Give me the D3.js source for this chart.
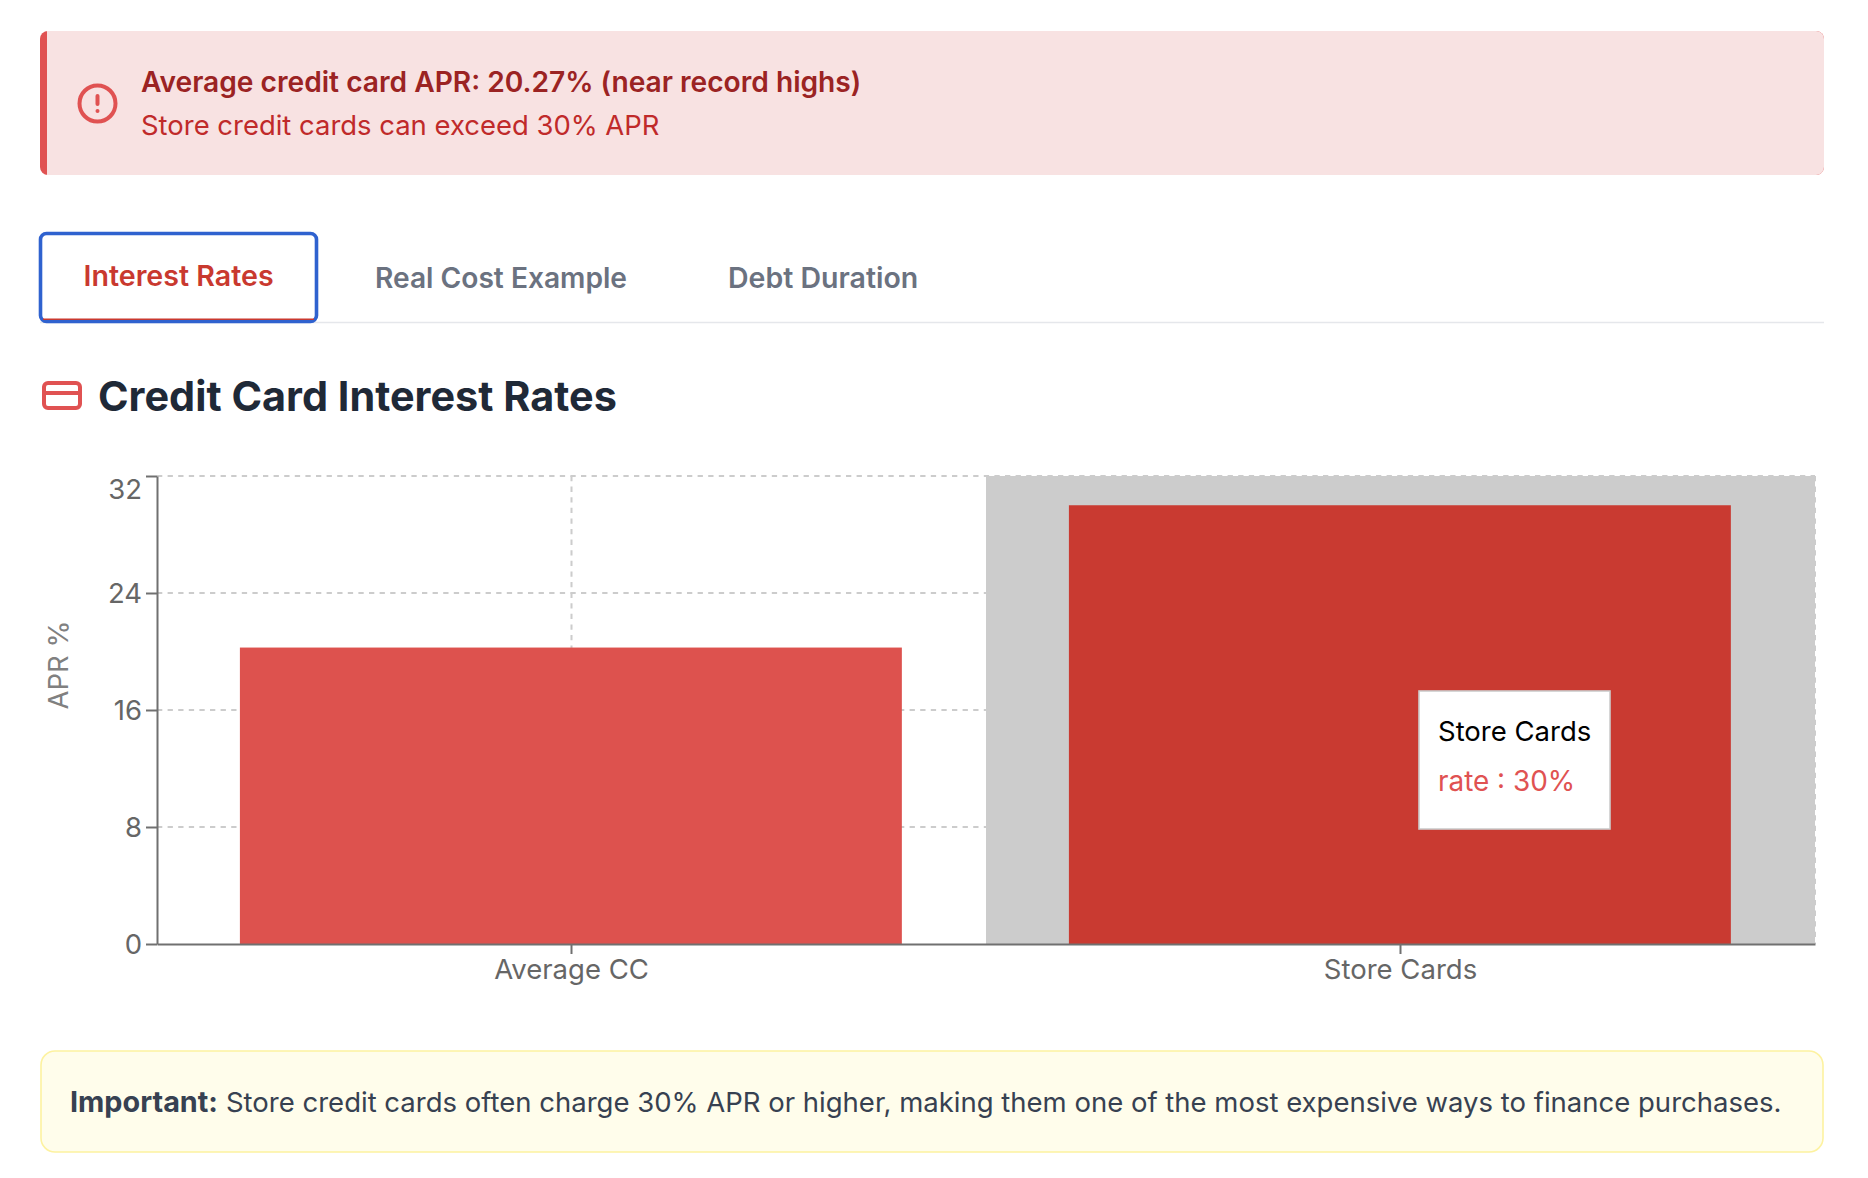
<!DOCTYPE html>
<html>
<head>
<meta charset="utf-8">
<script src="https://cdn.jsdelivr.net/npm/d3@7/dist/d3.min.js"></script>
<style>
html,body{margin:0;padding:0;background:#fff;}
svg{display:block;font-family:Inter,sans-serif;}
</style>
</head>
<body>
<svg id="page" width="1868" height="1178"></svg>
<script>
// Chart data
const categories = ["Average CC", "Store Cards"];
const rates = [20.27, 30];
const barColors = ["#dd524e", "#c93a31"];
const yTicks = [0, 8, 16, 24, 32];
const activeCategory = "Store Cards";
const tabs = ["Interest Rates", "Real Cost Example", "Debt Duration"];

const svg = d3.select("#page");
const W = { left: 157, right: 1815, top: 476, bottom: 944 };

// Alert banner
svg.append("rect").attr("x", 40).attr("y", 31).attr("width", 1784).attr("height", 144).attr("rx", 8).attr("fill", "#e05252");
svg.append("path").attr("d", "M47 31H1816a8 8 0 0 1 8 8V167a8 8 0 0 1-8 8H47Z").attr("fill", "#f8e2e2");
const alertIcon = svg.append("g").attr("fill", "none").attr("stroke", "#e05252").attr("stroke-width", 4).attr("stroke-linecap", "round");
alertIcon.append("circle").attr("cx", 97.5).attr("cy", 103.5).attr("r", 18);
alertIcon.append("line").attr("x1", 97.5).attr("x2", 97.5).attr("y1", 96).attr("y2", 104);
alertIcon.append("line").attr("x1", 97.5).attr("x2", 97.52).attr("y1", 111).attr("y2", 111);
svg.append("text").attr("x", 141).attr("y", 92).attr("font-size", 28.15).attr("font-weight", 600).attr("fill", "#9b2323").text("Average credit card APR: 20.27% (near record highs)");
svg.append("text").attr("x", 141).attr("y", 135).attr("font-size", 27.45).attr("fill", "#c02a2a").text("Store credit cards can exceed 30% APR");

// Tab strip
svg.append("line").attr("x1", 40).attr("x2", 1824).attr("y1", 322.5).attr("y2", 322.5).attr("stroke", "#e5e7eb").attr("stroke-width", 1.5);
svg.append("rect").attr("x", 40.5).attr("y", 233.5).attr("width", 276).attr("height", 88).attr("rx", 6).attr("fill", "#fff").attr("stroke", "#2f62cf").attr("stroke-width", 3.6);
svg.append("line").attr("x1", 43).attr("x2", 314).attr("y1", 319.2).attr("y2", 319.2).attr("stroke", "#c9392f").attr("stroke-width", 1.5);
const tabX = [83.5, 375, 728];
const tabY = [286, 288, 288];
const tabSize = [28.6, 28.15, 28.5];
svg.selectAll(".tab").data(tabs).join("text").attr("class", "tab")
  .attr("x", (d, i) => tabX[i]).attr("y", (d, i) => tabY[i])
  .attr("font-size", (d, i) => tabSize[i]).attr("font-weight", 600)
  .attr("fill", (d, i) => i === 0 ? "#c9392f" : "#6b7280").text(d => d);

// Section heading with card icon
const cardIcon = svg.append("g").attr("fill", "none").attr("stroke", "#e05252").attr("stroke-width", 4);
cardIcon.append("rect").attr("x", 44).attr("y", 383).attr("width", 36).attr("height", 25).attr("rx", 4);
cardIcon.append("line").attr("x1", 44).attr("x2", 80).attr("y1", 393).attr("y2", 393);
svg.append("text").attr("x", 98).attr("y", 411).attr("font-size", 41.4).attr("font-weight", 700).attr("fill", "#1f2937").text("Credit Card Interest Rates");

// Scales
const x = d3.scaleBand().domain(categories).range([W.left, W.right]);
const y = d3.scaleLinear().domain([0, 32]).range([W.bottom, W.top]);
const barInset = x.bandwidth() * 0.1;
const barWidth = x.bandwidth() * 0.7985;

// Grid
const grid = svg.append("g").attr("stroke", "#ccc").attr("stroke-width", 2).attr("stroke-dasharray", "5.3 5.3");
grid.selectAll(".h").data(yTicks.filter(t => t > 0)).join("line").attr("class", "h")
  .attr("x1", W.left).attr("x2", W.right).attr("y1", d => y(d)).attr("y2", d => y(d));
grid.selectAll(".v").data(categories).join("line").attr("class", "v")
  .attr("x1", d => x(d) + x.bandwidth() / 2).attr("x2", d => x(d) + x.bandwidth() / 2)
  .attr("y1", W.top).attr("y2", W.bottom);
grid.append("line").attr("x1", W.right).attr("x2", W.right).attr("y1", W.top).attr("y2", W.bottom);

// Hover band behind the active bar, then the bars
svg.append("rect").attr("x", x(activeCategory)).attr("y", W.top).attr("width", x.bandwidth())
  .attr("height", W.bottom - W.top).attr("fill", "#ccc");
svg.selectAll(".bar").data(categories).join("rect").attr("class", "bar")
  .attr("x", d => x(d) + barInset).attr("width", barWidth)
  .attr("y", (d, i) => y(rates[i])).attr("height", (d, i) => y(0) - y(rates[i]))
  .attr("fill", (d, i) => barColors[i]);

// Axes
const yAxis = svg.append("g").attr("transform", `translate(${W.left},0)`)
  .call(d3.axisLeft(y).tickValues(yTicks).tickSize(11).tickPadding(4).tickSizeOuter(0));
const xAxis = svg.append("g").attr("transform", `translate(0,${W.bottom})`)
  .call(d3.axisBottom(x).tickSize(10).tickPadding(5).tickSizeOuter(0));
[yAxis, xAxis].forEach(a => {
  a.selectAll("path,line").attr("stroke", "#707070").attr("stroke-width", 2);
  a.selectAll("text").attr("fill", "#666").attr("font-size", 27.5).attr("font-family", "Inter,sans-serif");
});
yAxis.selectAll("text").attr("dy", "0.36em");
yAxis.selectAll("text").filter(d => d === 32).attr("dy", "0.82em");
svg.append("text").attr("transform", "translate(68,665) rotate(-90)").attr("text-anchor", "middle")
  .attr("font-size", 27.5).attr("fill", "#808080").text("APR %");

// Tooltip
svg.append("rect").attr("x", 1419).attr("y", 691).attr("width", 191).attr("height", 138)
  .attr("fill", "#fff").attr("stroke", "#ccc").attr("stroke-width", 1.6);
svg.append("text").attr("x", 1438).attr("y", 741).attr("font-size", 27.5).attr("fill", "#000").text(activeCategory);
svg.append("text").attr("x", 1438).attr("y", 791).attr("font-size", 27.9).attr("fill", "#e05252")
  .text(`rate : ${rates[categories.indexOf(activeCategory)]}%`);

// Footer note
svg.append("rect").attr("x", 41).attr("y", 1051).attr("width", 1782).attr("height", 101).attr("rx", 14)
  .attr("fill", "#fffdeb").attr("stroke", "#fdf2a0").attr("stroke-width", 1.6);
const note = svg.append("text").attr("x", 70).attr("y", 1112).attr("font-size", 27.5).attr("fill", "#374151");
note.append("tspan").attr("font-weight", 700).attr("font-size", 28.8).text("Important:");
note.append("tspan").attr("dx", 8).text("Store credit cards often charge 30% APR or higher, making them one of the most expensive ways to finance purchases.");
</script>
</body>
</html>
